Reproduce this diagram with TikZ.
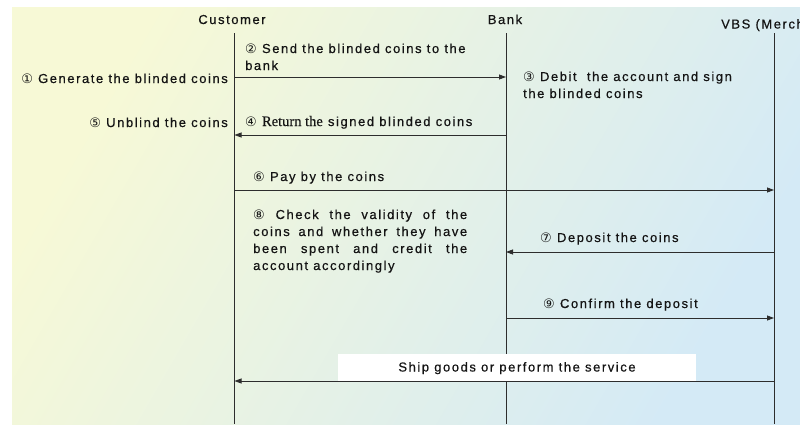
\documentclass[tikz,border=0pt]{standalone}
\usepackage{fontspec}
\setmainfont{Liberation Sans}[LetterSpace=12,FakeBold=0.5]
\newfontfamily\cnumfont{DejaVu Sans}
\newfontfamily\serifpart{Liberation Serif}[FakeBold=0.5]
\usetikzlibrary{arrows.meta}
\definecolor{bgA}{RGB}{247,249,214}
\definecolor{bgM}{RGB}{232,244,230}
\definecolor{bgB}{RGB}{212,234,246}
\definecolor{ln}{RGB}{45,45,45}
\definecolor{tx}{RGB}{20,20,20}
\newcommand{\cnum}[1]{{\cnumfont\fontsize{13}{13}\selectfont #1}}
\begin{document}
\begin{tikzpicture}[x=1pt,y=-1pt,
  txt/.style={inner sep=0pt, anchor=base west, text=tx, font=\fontsize{13}{17}\selectfont},
  life/.style={draw=ln, line width=0.8pt},
  msg/.style={draw=ln, line width=0.8pt, -{Triangle[length=7pt,width=5pt]}},
]
\useasboundingbox (0,0) rectangle (800,424);
\fill[white] (0,0) rectangle (800,424);
\shade[left color=bgA, middle color=bgM, right color=bgB, shading angle=60] (12,7) rectangle (800,424);

% participants
\node[txt, anchor=base] (cust) at (232,24) {Customer};
\node[txt, anchor=base] (bank) at (505,24) {Bank};
\node[txt] (vbs) at (721,28.5) {VBS (Merch};

% lifelines
\coordinate (cT) at (234.5,33); \coordinate (cB) at (234.5,424);
\coordinate (bT) at (506,33);   \coordinate (bB) at (506,424);
\coordinate (vT) at (774,33);   \coordinate (vB) at (774,424);
\draw[life] (cT) -- (cB);
\draw[life] (bT) -- (bB);
\draw[life] (vT) -- (vB);

% message anchor points
\coordinate (c2) at (234.5,77);  \coordinate (b2) at (506,77);
\coordinate (c4) at (234.5,135); \coordinate (b4) at (506,135);
\coordinate (c6) at (234.5,190); \coordinate (v6) at (774,190);
\coordinate (b7) at (506,252);   \coordinate (v7) at (774,252);
\coordinate (b9) at (506,318);   \coordinate (v9) at (774,318);
\coordinate (cS) at (234.5,381); \coordinate (vS) at (774,381);

% texts
\node[txt, anchor=base east] (t1) at (228,83) {\cnum{①} Generate the blinded coins};
\node[txt] (t2) at (245,53) {\begin{minipage}[t]{260pt}\raggedright\cnum{②} Send the blinded coins to the\\bank\end{minipage}};
\node[txt] (t3) at (523,81) {\begin{minipage}[t]{250pt}\raggedright\cnum{③} Debit\ \ the account and sign\\the blinded coins\end{minipage}};
\node[txt] (t4) at (245,126) {\cnum{④} {\serifpart\fontsize{14.5}{17}\selectfont Return the} signed blinded coins};
\node[txt, anchor=base east] (t5) at (228,127) {\cnum{⑤} Unblind the coins};
\node[txt] (t6) at (253,181) {\cnum{⑥} Pay by the coins};
\node[txt] (t8) at (253,219) {\begin{minipage}[t]{214pt}\cnum{⑧} Check the validity of the\linebreak coins and whether they have\linebreak been spent and credit the\linebreak account accordingly\end{minipage}};
\node[txt] (t7) at (540,242) {\cnum{⑦} Deposit the coins};
\node[txt] (t9) at (543,308) {\cnum{⑨} Confirm the deposit};
\node[txt, anchor=center, fill=white, minimum width=358pt, minimum height=27pt, text depth=0pt, text height=9pt, yshift=-0.5pt] (ship) at (517,366.5) {Ship goods or perform the service};

% messages
\draw[msg] (c2) -- (b2);
\draw[msg] (b4) -- (c4);
\draw[msg] (c6) -- (v6);
\draw[msg] (v7) -- (b7);
\draw[msg] (b9) -- (v9);
\draw[msg] (vS) -- (cS);
\end{tikzpicture}
\end{document}
